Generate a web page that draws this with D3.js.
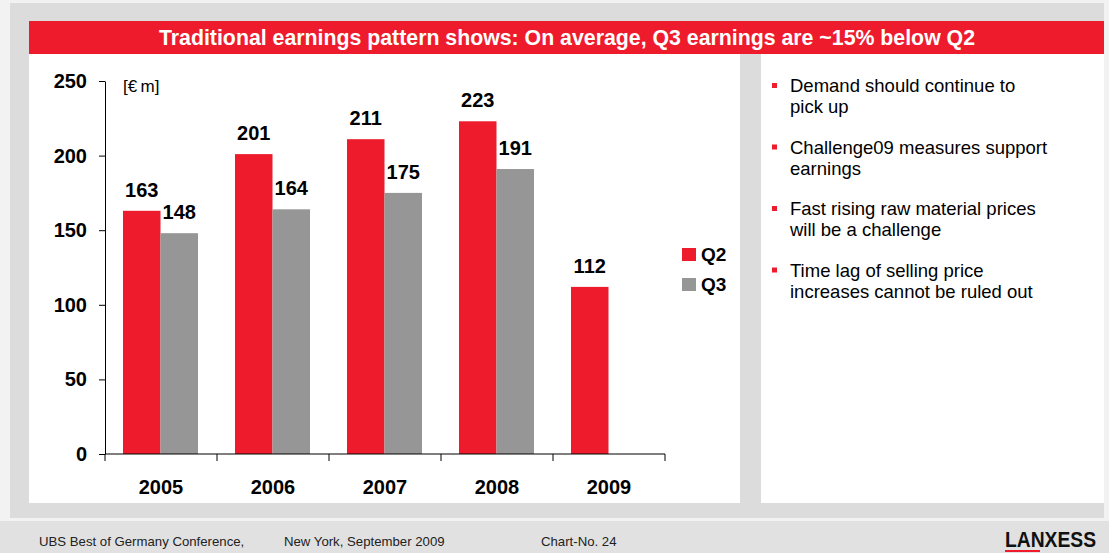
<!DOCTYPE html>
<html><head><meta charset="utf-8">
<script src="https://cdn.jsdelivr.net/npm/d3@7"></script>
<style>html,body{margin:0;padding:0;background:#f2f2f2;}svg{display:block;}</style>
</head><body>
<script>
const years = ["2005","2006","2007","2008","2009"];
const q2 = [163, 201, 211, 223, 112];
const q3 = [148, 164, 175, 191, null];
const seriesNames = ["Q2","Q3"];
const yTicks = [0, 50, 100, 150, 200, 250];
const title = "Traditional earnings pattern shows: On average, Q3 earnings are ~15% below Q2";
const unitLabel = "[€\u2009m]";
const bullets = [
  ["Demand should continue to", "pick up"],
  ["Challenge09 measures support", "earnings"],
  ["Fast rising raw material prices", "will be a challenge"],
  ["Time lag of selling price", "increases cannot be ruled out"]
];
const footer = ["UBS Best of Germany Conference,", "New York, September 2009", "Chart-No. 24"];

const RED = "#ee1b2d", GRAY = "#969696";
const W = 1109, H = 553;
const svg = d3.select("body").append("svg").attr("width", W).attr("height", H);
const F = "Arial, 'Liberation Sans', sans-serif";

// backgrounds
svg.append("rect").attr("width", W).attr("height", H).attr("fill", "#f2f2f2");
svg.append("rect").attr("x", 10).attr("y", 3).attr("width", 1094).attr("height", 515).attr("fill", "#dcdcdc");
svg.append("rect").attr("x", 0).attr("y", 521).attr("width", W).attr("height", 32).attr("fill", "#e1e1e1");
svg.append("rect").attr("x", 29).attr("y", 21).attr("width", 1075).attr("height", 33).attr("fill", RED);
svg.append("text").attr("x", 567).attr("y", 45).attr("text-anchor", "middle")
  .attr("fill", "#fff").attr("font-family", F).attr("font-weight", "bold").attr("font-size", 21.3).text(title);
svg.append("rect").attr("x", 29).attr("y", 54).attr("width", 711).attr("height", 449).attr("fill", "#fff");
svg.append("rect").attr("x", 761).attr("y", 54).attr("width", 343).attr("height", 449).attr("fill", "#fff");

// scales
const x = d3.scaleBand().domain(years).range([105, 665]).paddingInner(0).paddingOuter(0);
const y = d3.scaleLinear().domain([0, 250]).range([454, 81]);
const inner = d3.scaleBand().domain(seriesNames).range([18, 93]).padding(0);

const g = svg.append("g");
const data = [];
years.forEach((yr, i) => {
  if (q2[i] != null) data.push({yr, s: "Q2", v: q2[i]});
  if (q3[i] != null) data.push({yr, s: "Q3", v: q3[i]});
});
g.selectAll("rect.bar").data(data).join("rect").attr("class", "bar")
  .attr("x", d => x(d.yr) + inner(d.s))
  .attr("width", inner.bandwidth())
  .attr("y", d => y(d.v))
  .attr("height", d => y(0) - y(d.v))
  .attr("fill", d => d.s === "Q2" ? RED : GRAY);
g.selectAll("text.val").data(data).join("text").attr("class", "val")
  .attr("x", d => x(d.yr) + inner(d.s) + inner.bandwidth() / 2)
  .attr("y", d => y(d.v) - 14)
  .attr("text-anchor", "middle").attr("font-family", F).attr("font-weight", "bold")
  .attr("font-size", 20).attr("fill", "#000").text(d => d.v);

// y axis
const yAxis = svg.append("g").attr("transform", "translate(105,0)")
  .call(d3.axisLeft(y).tickValues(yTicks).tickSize(6).tickPadding(12).tickSizeOuter(0));
yAxis.select(".domain").attr("stroke", "#000");
yAxis.selectAll("text").attr("font-family", F).attr("font-weight", "bold").attr("font-size", 20).attr("fill", "#000");

// x axis
const xAxis = svg.append("g").attr("transform", "translate(0,454)")
  .call(d3.axisBottom(x).tickSize(0).tickPadding(26));
xAxis.select(".domain").attr("stroke", "#000").attr("d", "M105,0H665");
xAxis.selectAll("text").attr("font-family", F).attr("font-weight", "bold").attr("font-size", 20).attr("fill", "#000");
const bounds = years.map(d => x(d)).concat([x(years[years.length - 1]) + x.bandwidth()]);
xAxis.selectAll("line.sep").data(bounds).join("line").attr("class", "sep")
  .attr("x1", d => d).attr("x2", d => d).attr("y1", 0).attr("y2", 7).attr("stroke", "#000");

// unit label
svg.append("text").attr("x", 123).attr("y", 92).attr("font-family", F).attr("font-size", 17).text(unitLabel);

// legend
const leg = svg.append("g");
seriesNames.forEach((s, i) => {
  leg.append("rect").attr("x", 682).attr("y", 248 + i * 30).attr("width", 14).attr("height", 13)
    .attr("fill", s === "Q2" ? RED : GRAY);
  leg.append("text").attr("x", 701).attr("y", 261 + i * 30).attr("font-family", F).attr("font-weight", "bold")
    .attr("font-size", 19).text(s);
});

// bullets
bullets.forEach((b, i) => {
  const by = 92 + i * 61.5;
  svg.append("rect").attr("x", 772).attr("y", by - 9).attr("width", 5).attr("height", 5).attr("fill", RED);
  b.forEach((line, j) => {
    svg.append("text").attr("x", 790).attr("y", by + j * 21).attr("font-family", F).attr("font-size", 18.5)
      .attr("fill", "#000").text(line);
  });
});

// footer
const fx = [39, 284, 541];
footer.forEach((t, i) => {
  svg.append("text").attr("x", fx[i]).attr("y", 546).attr("font-family", F).attr("font-size", 13.2)
    .attr("fill", "#222").text(t);
});
// logo
svg.append("text").attr("x", 1005).attr("y", 547).attr("font-family", "'Liberation Sans Narrow', Arial, sans-serif")
  .attr("font-weight", "bold").attr("font-size", 22).attr("textLength", 91).attr("lengthAdjust", "spacingAndGlyphs")
  .attr("fill", "#111").text("LANXESS");
svg.append("rect").attr("x", 1005).attr("y", 550).attr("width", 35).attr("height", 2).attr("fill", RED);
</script>
</body></html>
